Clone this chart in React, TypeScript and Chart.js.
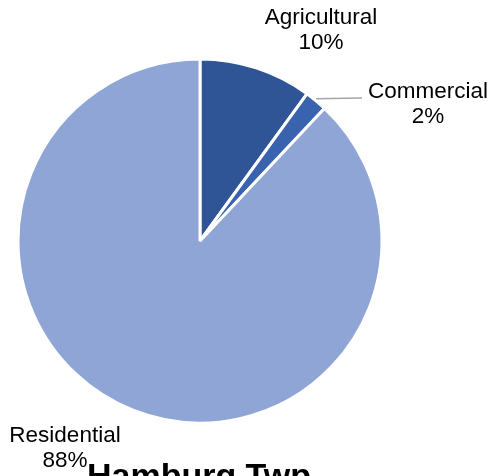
import React, { useEffect, useRef } from "react";
import { Chart, registerables } from "chart.js";

Chart.register(...registerables);

const categories = ["Agricultural", "Commercial", "Residential"];
const shares = [10, 2, 88];
const sliceColors = ["#2F5597", "#3963AE", "#8FA5D5"];
const chartTitle = "Hamburg Twp";

// layout of the outside labels (center x, first-line y)
const labelPlaces = [
  { x: 321, y: 18 },
  { x: 428, y: 92 },
  { x: 65, y: 436 },
];
const leaderEnd = { x: 362, y: 98 };

const labelPlugin = {
  id: "pieLabels",
  afterDraw(chart: any) {
    const ctx = chart.ctx;
    const meta = chart.getDatasetMeta(0);
    const data = chart.data.datasets[0].data as number[];
    const total = data.reduce((a, b) => a + b, 0);
    ctx.save();
    // leader line for Commercial
    const arc = meta.data[1] as any;
    const mid = (arc.startAngle + arc.endAngle) / 2;
    const sx = arc.x + Math.cos(mid) * arc.outerRadius;
    const sy = arc.y + Math.sin(mid) * arc.outerRadius;
    ctx.strokeStyle = "#A6A6A6";
    ctx.lineWidth = 1.5;
    ctx.beginPath();
    ctx.moveTo(sx, sy - 2);
    ctx.lineTo(leaderEnd.x, leaderEnd.y);
    ctx.stroke();

    ctx.fillStyle = "#000000";
    ctx.font = "22.5px 'Liberation Sans', Arial, sans-serif";
    ctx.textAlign = "center";
    ctx.textBaseline = "middle";
    chart.data.labels.forEach((lab: string, i: number) => {
      const p = labelPlaces[i];
      const pct = Math.round((data[i] / total) * 100) + "%";
      ctx.fillText(lab, p.x, p.y);
      ctx.fillText(pct, p.x, p.y + 25);
    });

    ctx.font = "bold 34px 'Liberation Sans', Arial, sans-serif";
    ctx.textBaseline = "alphabetic";
    ctx.fillText(chartTitle, 199, 487);
    ctx.restore();
  },
};

export default function App() {
  const ref = useRef<HTMLCanvasElement>(null);
  useEffect(() => {
    if (!ref.current) return;
    const chart = new Chart(ref.current, {
      type: "pie",
      data: {
        labels: categories,
        datasets: [
          {
            data: shares,
            backgroundColor: sliceColors,
            borderColor: "#FFFFFF",
            borderWidth: 3,
          },
        ],
      },
      options: {
        responsive: false,
        animation: false,
        radius: 182,
        layout: { padding: { left: 19, right: 109, top: 60, bottom: 54 } },
        plugins: {
          legend: { display: false },
          tooltip: { enabled: false },
          title: { display: false },
        },
      } as any,
      plugins: [labelPlugin],
    });
    return () => chart.destroy();
  }, []);
  return (
    <div style={{ position: "absolute", left: 0, top: 0, width: 490, height: 476, background: "#fff" }}>
      <canvas ref={ref} width={490} height={476} />
    </div>
  );
}
